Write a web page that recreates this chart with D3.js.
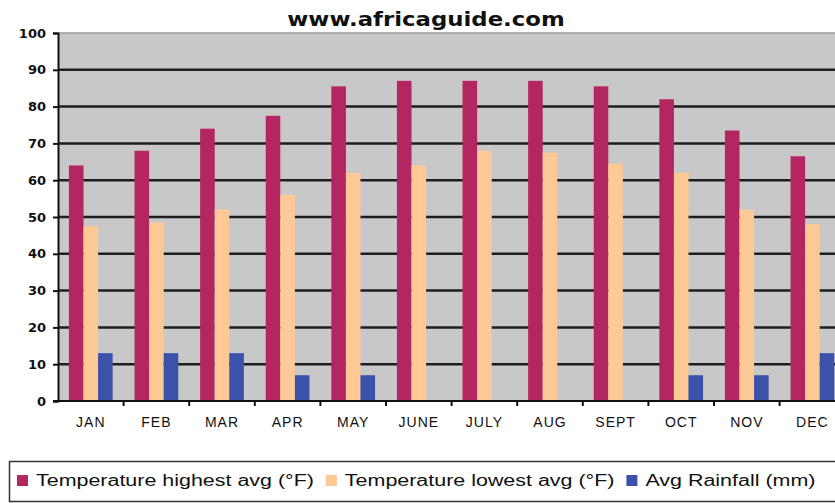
<!DOCTYPE html>
<html>
<head>
    <meta charset="utf-8">
    <title>www.africaguide.com</title>
    <script src="https://cdnjs.cloudflare.com/ajax/libs/d3/7.8.5/d3.min.js"></script>
    <style>
        html, body {
            margin: 0;
            padding: 0;
            background: #ffffff;
        }
        svg {
            display: block;
        }
        .y-axis text {
            font-family: 'DejaVu Sans', sans-serif;
            font-weight: bold;
            font-size: 13px;
            fill: #111;
        }
        .x-axis text {
            font-family: 'Liberation Sans', Arial, sans-serif;
            font-size: 14px;
            letter-spacing: 1px;
            fill: #111;
        }
        .legend text {
            font-family: 'Liberation Sans', Arial, sans-serif;
            font-size: 16px;
            fill: #111;
        }
    </style>
</head>
<body>
    <div id="chart"></div>
    <script>
        const months = ['JAN', 'FEB', 'MAR', 'APR', 'MAY', 'JUNE', 'JULY', 'AUG', 'SEPT', 'OCT', 'NOV', 'DEC'];

        const tempHigh = [64, 68, 74, 77.5, 85.5, 87, 87, 87, 85.5, 82, 73.5, 66.5];
        const tempLow = [47.5, 48.5, 52, 56, 62, 64, 68, 67.5, 64.5, 62, 52, 48];
        const rainfall = [13, 13, 13, 7, 7, 0, 0, 0, 0, 7, 7, 13];

        const yTicks = [0, 10, 20, 30, 40, 50, 60, 70, 80, 90, 100];

        const seriesNames = ['Temperature highest avg (°F)', 'Temperature lowest avg (°F)', 'Avg Rainfall (mm)'];
        const seriesColors = ['#b4265f', '#ffc995', '#3a52aa'];

        const width = 835, height = 503;
        const margin = { top: 33, left: 58, bottom: 102 };
        const bandWidth = 65.6;

        const svg = d3.select('#chart')
            .append('svg')
            .attr('width', width)
            .attr('height', height);

        // stretch text horizontally, the source picture is wider than the font
        function widen(sel, k) {
            let w = 0;
            sel.each(function () {
                w = this.getComputedTextLength() * k;
                d3.select(this)
                    .attr('textLength', w)
                    .attr('lengthAdjust', 'spacingAndGlyphs');
            });
            return w;
        }

        const x = d3.scaleBand()
            .domain(months)
            .range([margin.left, margin.left + bandWidth * months.length]);

        const xInner = d3.scaleBand()
            .domain([0, 1, 2])
            .range([0, x.bandwidth()])
            .paddingOuter(0.75);

        const y = d3.scaleLinear()
            .domain([0, 100])
            .range([height - margin.bottom, margin.top]);

        // plot background
        svg.append('rect')
            .attr('x', margin.left)
            .attr('y', y(100))
            .attr('width', width - margin.left)
            .attr('height', y(0) - y(100))
            .attr('fill', '#c8c8c8');

        svg.append('line')
            .attr('x1', margin.left)
            .attr('x2', width)
            .attr('y1', y(100))
            .attr('y2', y(100))
            .attr('stroke', '#9a9a9a')
            .attr('stroke-width', 1.5);

        // grid lines
        svg.append('g')
            .selectAll('line')
            .data(yTicks.filter(d => d > 0 && d < 100))
            .enter()
            .append('line')
            .attr('x1', margin.left)
            .attr('x2', width)
            .attr('y1', d => y(d))
            .attr('y2', d => y(d))
            .attr('stroke', '#1e1e1e')
            .attr('stroke-width', 2.5);

        // bars
        const rows = months.map((m, i) => ({ month: m, values: [tempHigh[i], tempLow[i], rainfall[i]] }));

        const groups = svg.append('g')
            .selectAll('g')
            .data(rows)
            .enter()
            .append('g')
            .attr('transform', d => 'translate(' + x(d.month) + ',0)');

        groups.selectAll('rect')
            .data(d => d.values)
            .enter()
            .append('rect')
            .attr('x', (d, i) => xInner(i))
            .attr('y', d => y(d))
            .attr('width', xInner.bandwidth())
            .attr('height', d => y(0) - y(d))
            .attr('fill', (d, i) => seriesColors[i]);

        // y axis
        const yAxis = d3.axisLeft(y)
            .tickValues(yTicks)
            .tickSize(5)
            .tickPadding(7);

        const yG = svg.append('g')
            .attr('class', 'y-axis')
            .attr('transform', 'translate(' + margin.left + ',0)')
            .call(yAxis);
        yG.select('.domain').attr('stroke', '#111').attr('stroke-width', 2);
        yG.selectAll('line').attr('stroke', '#111').attr('stroke-width', 2);

        // x axis
        const xAxis = d3.axisBottom(x)
            .tickSize(0)
            .tickPadding(16);

        const xG = svg.append('g')
            .attr('class', 'x-axis')
            .attr('transform', 'translate(0,' + y(0) + ')')
            .call(xAxis);
        xG.select('.domain').remove();

        xG.append('line')
            .attr('x1', margin.left - 5)
            .attr('x2', width)
            .attr('stroke', '#111')
            .attr('stroke-width', 2);

        xG.selectAll('.edge')
            .data(months)
            .enter()
            .append('line')
            .attr('class', 'edge')
            .attr('x1', d => x(d) + x.bandwidth())
            .attr('x2', d => x(d) + x.bandwidth())
            .attr('y1', 0)
            .attr('y2', 5)
            .attr('stroke', '#111')
            .attr('stroke-width', 2);

        // title
        const title = svg.append('text')
            .attr('x', 426)
            .attr('y', 26)
            .attr('text-anchor', 'middle')
            .style('font-family', "'DejaVu Sans', Verdana, sans-serif")
            .style('font-weight', 'bold')
            .style('font-size', '19px')
            .style('fill', '#111')
            .text('www.africaguide.com');
        widen(title, 1.2);

        // legend
        const legend = svg.append('g').attr('class', 'legend');

        legend.append('rect')
            .attr('x', 9.5)
            .attr('y', 461.5)
            .attr('width', 840)
            .attr('height', 40)
            .attr('fill', '#ffffff')
            .attr('stroke', '#333')
            .attr('stroke-width', 1.5);

        let lx = 17;
        seriesNames.forEach((name, i) => {
            legend.append('rect')
                .attr('x', lx)
                .attr('y', 475)
                .attr('width', 11)
                .attr('height', 11)
                .attr('fill', seriesColors[i]);

            const t = legend.append('text')
                .attr('x', lx + 19)
                .attr('y', 486)
                .text(name);
            const w = widen(t, 1.34);

            lx += 19 + w + 12;
        });
    </script>
</body>
</html>
